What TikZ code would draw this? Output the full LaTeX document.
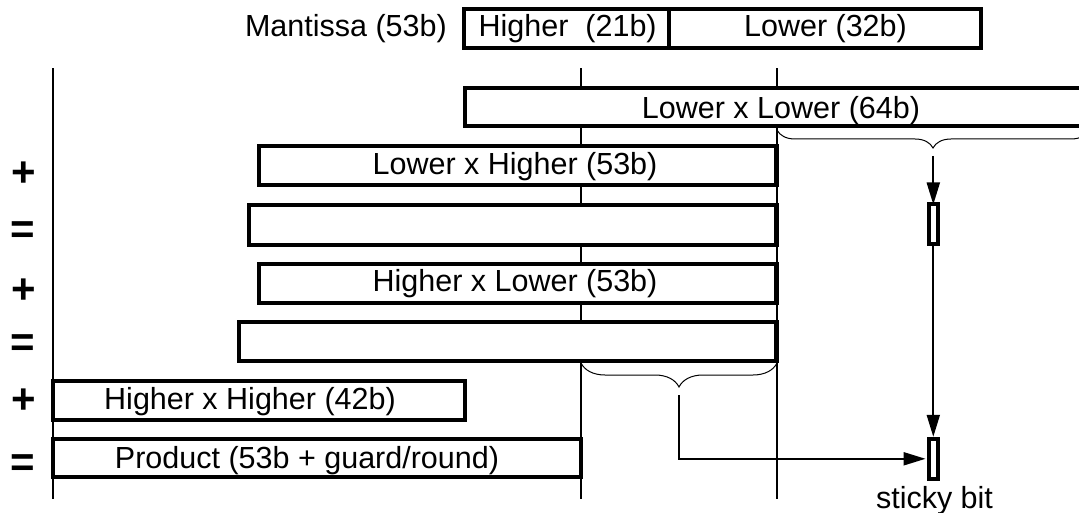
\documentclass[tikz,border=0pt]{standalone}
\usepackage{fontspec}
\setmainfont{Liberation Sans}
\usetikzlibrary{arrows.meta,decorations.pathreplacing}

\begin{document}
\begin{tikzpicture}[x=1pt,y=-1pt,
  font=\fontsize{30.5}{36}\selectfont,
  guide/.style={line width=2pt},
  bitbox/.style={draw,line width=4.3pt,fill=white,inner sep=0pt,outer sep=0pt},
  lbl/.style={inner sep=0pt,anchor=base},
  sign/.style={inner sep=0pt,anchor=base,font=\fontsize{42}{44}\selectfont\bfseries},
  stickybox/.style={draw,line width=4pt,fill=white,inner sep=0pt,outer sep=0pt,
    minimum width=9.5pt,minimum height=40pt},
  bracket/.style={line width=1pt,decorate},
  arr/.style={line width=2pt,-{Triangle[length=22pt,width=13pt]}}
]
\clip (0,0) rectangle (1079,513);

% bit-position guides
\draw[guide] (52.5,68.3) -- (52.5,499.3);
\draw[guide] (581,68.3) -- (581,499.3);
\draw[guide] (777,68.3) -- (777,499.3);

% mantissa split into higher and lower parts
\node[anchor=base east,inner sep=0pt] (mant) at (447,37) {Mantissa (53b)};
\node[bitbox,minimum width=205pt,minimum height=39.3pt] (mhi) at (566.2,28.35) {};
\node[bitbox,minimum width=312.3pt,minimum height=39.3pt] (mlo) at (824.85,28.35) {};
\node[lbl] (mhit) at (567.7,36.5) {Higher\ \ (21b)};
\node[lbl] (mlot) at (825.5,36.5) {Lower (32b)};

% partial products and running sums
\node[bitbox,minimum width=635.3pt,minimum height=38.3pt] (ll) at (782.35,107.15) {};
\node[lbl] (llt) at (781,118.3) {Lower x Lower (64b)};

\node[bitbox,minimum width=517.8pt,minimum height=39.3pt] (lh) at (517.6,165.65) {};
\node[lbl] (lht) at (515,174.5) {Lower x Higher (53b)};

\node[bitbox,minimum width=527.8pt,minimum height=40pt] (eqa) at (512.6,224.7) {};

\node[bitbox,minimum width=517.8pt,minimum height=39.3pt] (hl) at (517.6,283.35) {};
\node[lbl] (hlt) at (515,291) {Higher x Lower (53b)};

\node[bitbox,minimum width=537.8pt,minimum height=39.3pt] (eqb) at (507.6,341.65) {};

\node[bitbox,minimum width=411.7pt,minimum height=38.4pt] (hh) at (258.85,400.5) {};
\node[lbl] (hht) at (250,409.3) {Higher x Higher (42b)};

\node[bitbox,minimum width=528pt,minimum height=38pt] (prod) at (317,458.3) {};
\node[lbl] (prodt) at (307,468.3) {Product (53b + guard/round)};

% operators
\node[sign] (op1) at (23.7,187) {+};
\node[sign] (op2) at (22.7,243.3) {=};
\node[sign] (op3) at (23.3,303.3) {+};
\node[sign] (op4) at (22.7,356.7) {=};
\node[sign] (op5) at (23.3,413.3) {+};
\node[sign] (op6) at (22.7,476.7) {=};

% sticky bit
\node[stickybox] (sb1) at (933.3,224.5) {};
\node[stickybox] (sb2) at (933.3,458.8) {};
\node[lbl] (sbt) at (934.5,508) {sticky bit};

% braces collecting the discarded low bits
\coordinate (ba) at (777,130);
\coordinate (bb) at (1089,130);
\coordinate (bc) at (581,363);
\coordinate (bd) at (777,363);
\draw[bracket,decoration={brace,mirror,amplitude=18pt}] (ba) -- (bb);
\draw[bracket,decoration={brace,mirror,amplitude=24pt}] (bc) -- (bd);

\coordinate (ttip) at (933.3,156);
\coordinate (btip) at (679,395);
\draw[arr] (ttip) -- (sb1);
\draw[arr,shorten >=2pt] (sb1) -- (sb2);
\draw[arr,shorten >=3pt] (btip) |- (sb2);
\end{tikzpicture}
\end{document}
